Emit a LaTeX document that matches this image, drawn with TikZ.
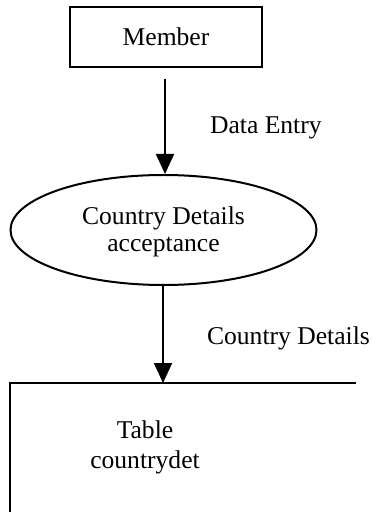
\documentclass[tikz,border=0pt]{standalone}
\usepackage{fontspec}
\setmainfont{Liberation Serif}
\usetikzlibrary{arrows.meta,shapes.geometric}
\begin{document}
\begin{tikzpicture}[x=0.5pt,y=-0.5pt,
  every node/.style={font=\fontsize{12.8}{13.5}\selectfont},
  flow/.style={line width=1pt,-{Triangle[length=10pt,width=9pt]}},
  boxline/.style={line width=1pt},
  lbl/.style={anchor=west}]
  \useasboundingbox (0,0) rectangle (373,512);
  % external entity
  \node[draw,boxline,minimum width=96pt,minimum height=30pt] (member) at (166,37) {Member};
  % process
  \node[draw,boxline,ellipse,minimum width=153pt,minimum height=55pt] (proc) at (163.5,230) {};
  \node[align=center,font=\fontsize{12.8}{13.2}\selectfont] (proctext) at (163.5,232) {Country Details\\acceptance};
  % data store: open box with top and left edges
  \coordinate (storeTL) at (10,383);
  \coordinate (storeTR) at (356,383);
  \coordinate (storeBL) at (10,512);
  \coordinate (storeIn) at (163,383);
  \draw[boxline] (storeTR) -- (storeTL) -- (storeBL);
  \node[align=center,font=\fontsize{12.8}{15}\selectfont] (store) at (145,447) {Table\\countrydet};
  % flows
  \draw[flow,shorten <=5.5pt] (member.south -| 165,0) -- (proc.north -| 165,0);
  \node[lbl] (l1) at (203,128) {Data Entry};
  \draw[flow] (proc.south -| 163,0) -- (storeIn);
  \node[lbl] (l2) at (200,338) {Country Details};
\end{tikzpicture}
\end{document}
